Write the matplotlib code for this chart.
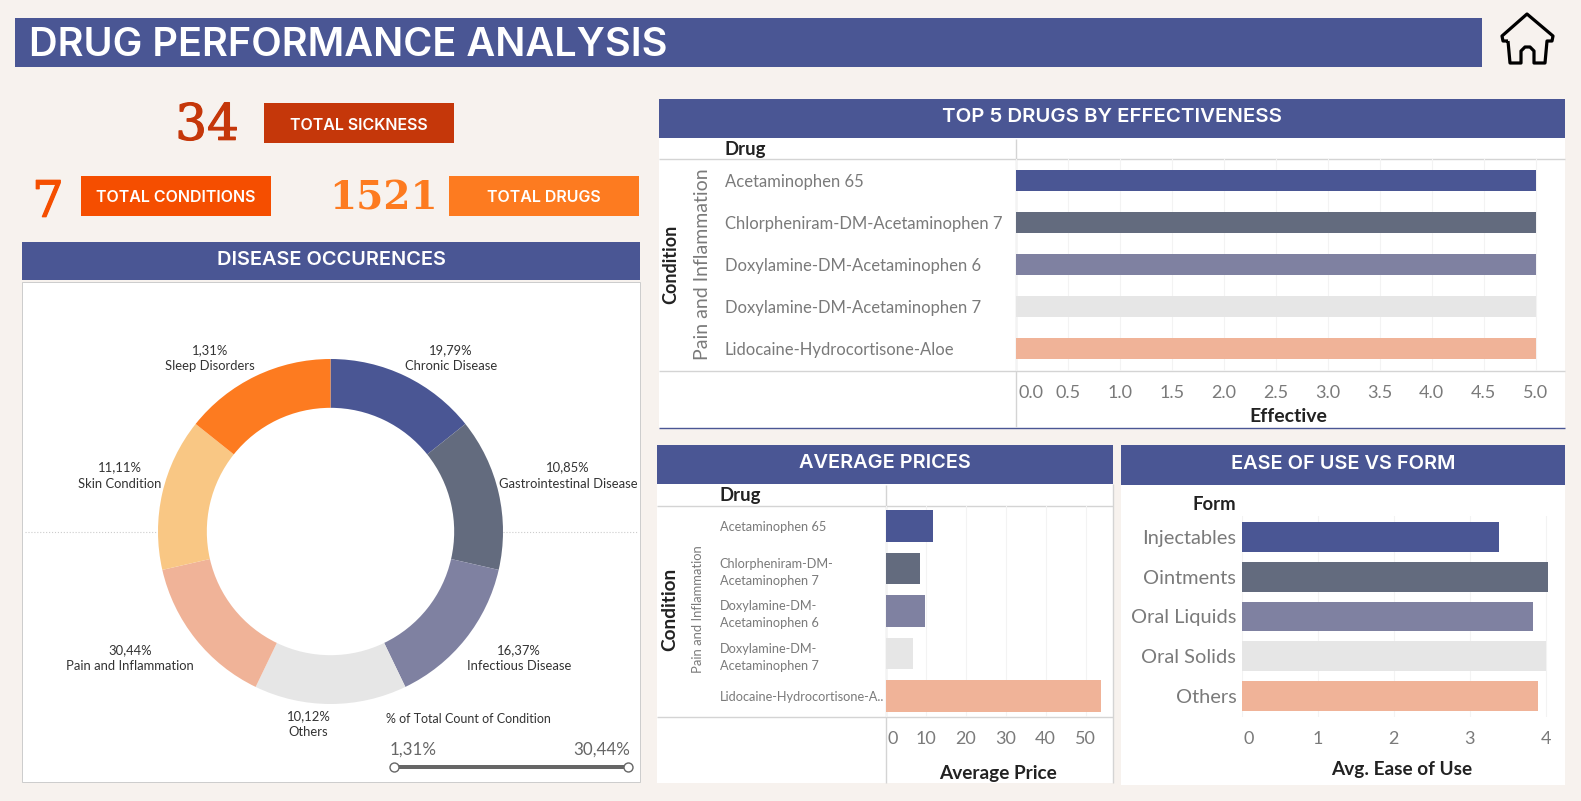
import matplotlib
matplotlib.use("Agg")
import matplotlib.pyplot as plt
import matplotlib.patheffects as pe
from matplotlib.patches import Rectangle, PathPatch
from matplotlib.path import Path
from matplotlib.transforms import ScaledTranslation

W, H = 1581, 801

# -------------------------------
# Data
# -------------------------------
disease_names = ["Chronic Disease", "Gastrointestinal Disease", "Infectious Disease", "Others",
                 "Pain and Inflammation", "Skin Condition", "Sleep Disorders"]
disease_pct = ["19,79%", "10,85%", "16,37%", "10,12%", "30,44%", "11,11%", "1,31%"]
disease_slices = [1, 1, 1, 1, 1, 1, 1]

top_drugs = ["Acetaminophen 65", "Chlorpheniram-DM-Acetaminophen 7", "Doxylamine-DM-Acetaminophen 6",
             "Doxylamine-DM-Acetaminophen 7", "Lidocaine-Hydrocortisone-Aloe"]
top_effective = [5, 5, 5, 5, 5]
top_ticks = [0.0, 0.5, 1.0, 1.5, 2.0, 2.5, 3.0, 3.5, 4.0, 4.5, 5.0]

price_drugs = ["Acetaminophen 65", "Chlorpheniram-DM-\nAcetaminophen 7", "Doxylamine-DM-\nAcetaminophen 6",
               "Doxylamine-DM-\nAcetaminophen 7", "Lidocaine-Hydrocortisone-A.."]
avg_price = [11.9, 8.65, 9.9, 6.85, 53.9]
price_ticks = [0, 10, 20, 30, 40, 50]

forms = ["Injectables", "Ointments", "Oral Liquids", "Oral Solids", "Others"]
ease_of_use = [3.39, 4.03, 3.83, 4.0, 3.9]
ease_ticks = [0, 1, 2, 3, 4]

total_sickness = 34
total_conditions = 7
total_drugs = 1521

# -------------------------------
# Colours / fonts
# -------------------------------
BG = "#F7F2EE"
BLUE = "#4A5694"
bar_colors = ["#4A5694", "#636B7E", "#7F81A1", "#E6E6E6", "#F0B398"]
pie_colors = bar_colors + ["#F9C784", "#FD7B20"]
GREY = "#7A7A7A"
DARK = "#222222"
LINE = "#D4D4D4"
HEAD = "Inter"
BODY = "Lato"
SERIF = "DejaVu Serif"


def pt(px):
    return px * 0.72


fig = plt.figure(figsize=(W / 100, H / 100), dpi=100, facecolor=BG)

# full figure axes in pixel coordinates for the dashboard furniture
bg = fig.add_axes([0, 0, 1, 1])
bg.set_xlim(0, W)
bg.set_ylim(H, 0)
bg.axis("off")


def ax_px(x0, y0, x1, y1):
    return fig.add_axes([x0 / W, 1 - y1 / H, (x1 - x0) / W, (y1 - y0) / H], facecolor="none")


def rect(x0, y0, x1, y1, color, **kw):
    bg.add_patch(Rectangle((x0, y0), x1 - x0, y1 - y0, facecolor=color, edgecolor=kw.pop("edgecolor", "none"), **kw))


def hline(y, x0, x1, color=LINE, lw=1.0):
    bg.plot([x0, x1], [y, y], color=color, lw=lw, solid_capstyle="butt")


def vline(x, y0, y1, color=LINE, lw=1.0):
    bg.plot([x, x], [y0, y1], color=color, lw=lw, solid_capstyle="butt")


def label(x, y, s, px, color=DARK, ha="center", family=BODY, weight="normal", rotation=0):
    return bg.text(x, y, s, fontsize=pt(px), color=color, ha=ha, va="center", family=family,
                   weight=weight, rotation=rotation)


def kpi(x, y, value, px, color, weight="normal"):
    t = label(x, y, str(value), px, color=color, family=SERIF, weight=weight)
    if weight == "normal":
        t.set_path_effects([pe.withStroke(linewidth=0.9, foreground=color)])


def header(x0, y0, x1, y1, s, px=20):
    rect(x0, y0, x1, y1, BLUE)
    label((x0 + x1) / 2, (y0 + y1) / 2 - 1, s, px, color="white", family=HEAD, weight="semibold")


def style_bars(ax, ticks):
    for s in ax.spines.values():
        s.set_visible(False)
    ax.set_xticks(ticks)
    ax.tick_params(axis="both", length=0)
    ax.grid(axis="x", color="#F3F3F3", lw=0.8)
    ax.set_axisbelow(True)
    ax.set_xticklabels([])


# -------------------------------
# Title + home icon
# -------------------------------
rect(15, 18, 1482, 67, BLUE)
label(29, 46, "DRUG PERFORMANCE ANALYSIS", 39.7, color="white", ha="left", family=HEAD, weight="semibold")

verts = [(1508, 41), (1503, 41), (1502, 36), (1527, 14), (1553, 36), (1552, 41), (1547, 41),
         (1545, 63), (1534, 63), (1534, 51), (1530, 47), (1525, 47), (1521, 51), (1521, 63),
         (1510, 63), (1508, 41)]
bg.add_patch(PathPatch(Path(verts), facecolor="none", edgecolor="black", lw=pt(3.2), joinstyle="round"))

# -------------------------------
# KPI cards
# -------------------------------
kpi(207, 126, total_sickness, 50, "#C5370A")
rect(264, 103, 454, 143, "#C5370A")
label(359, 125, "TOTAL SICKNESS", 16, color="white", family=HEAD, weight="semibold")

kpi(48, 203, total_conditions, 50, "#F54E00")
rect(81, 176, 271, 216, "#F54E00")
label(176, 198, "TOTAL CONDITIONS", 16, color="white", family=HEAD, weight="semibold")

kpi(383, 198, total_drugs, 39, "#FD7B20", weight="bold")
rect(449, 176, 639, 216, "#FD7B20")
label(544, 198, "TOTAL DRUGS", 16, color="white", family=HEAD, weight="semibold")

# -------------------------------
# Donut
# -------------------------------
header(22, 242, 640, 280, "DISEASE OCCURENCES")
rect(22, 282, 640, 782, "white", edgecolor="#CCCCCC", lw=0.7)
bg.plot([25, 158], [532, 532], color="#CCCCCC", lw=0.8, ls=":")
bg.plot([503, 638], [532, 532], color="#CCCCCC", lw=0.8, ls=":")

cx, cy, r = 330.5, 531.5, 172.5
ax = ax_px(cx - r, cy - r, cx + r, cy + r)
ax.pie(disease_slices, colors=pie_colors, startangle=90, counterclock=False, radius=1,
       wedgeprops={"width": 1 - 0.717, "linewidth": 0})
ax.set_xlim(-1, 1)
ax.set_ylim(-1, 1)

label_pos = [(451, 350), (568, 467.5), (519, 650), (308.5, 716), (130, 650), (119.5, 467.5), (210, 350)]
for (x, y), name, pct in zip(label_pos, disease_names, disease_pct):
    label(x, y, pct, 13, color="#333333")
    label(x, y + 16, name, 13, color="#333333")

label(385.5, 719, "% of Total Count of Condition", 12.5, color="#333333", ha="left")
label(390, 750, disease_pct[6], 17, color="#666666", ha="left")
label(630, 750, disease_pct[4], 17, color="#666666", ha="right")
hline(767, 394, 628, color="#666666", lw=pt(4))
for x in (394, 628):
    bg.plot(x, 767, "o", ms=pt(9), mfc="white", mec="#666666", mew=1)

# -------------------------------
# Top 5 drugs by effectiveness
# -------------------------------
header(659, 99, 1565, 138, "TOP 5 DRUGS BY EFFECTIVENESS", px=20.4)
rect(659, 138, 1565, 428, "white")
hline(428, 659, 1565, color=BLUE, lw=1)
hline(159, 659, 1565)
hline(371, 659, 1565)
vline(1015.6, 139, 427)

x0, x1, y0, y1 = 1015.6, 1565, 159, 371
ax = ax_px(x0, y0, x1, y1)
ax.barh(range(5), top_effective, height=0.5, color=bar_colors)
ax.set_xlim(0, (x1 - x0) / 104)
ax.set_ylim(4.54, -0.51)
style_bars(ax, top_ticks)
ax.set_yticks(range(5))
ax.set_yticklabels(top_drugs, fontsize=pt(16.6), color=GREY, family=BODY, ha="left", va="center")
ax.tick_params(axis="y", pad=pt(x0 - 725))
for lab in ax.get_yticklabels():
    # drop the drug names two pixels to sit level with the bars
    lab.set_transform(lab.get_transform() + ScaledTranslation(0, -0.02, fig.dpi_scale_trans))
for t in top_ticks:
    # the first tick label is pushed inside the axis in the original
    xp = x0 + t * 104 if t > 0 else 1031
    label(xp, 393, f"{t:.1f}", 18, color=GREY)
label(1288, 417, "Effective", 19.5, weight="bold")
label(725, 149, "Drug", 18.5, ha="left", weight="bold")
label(671, 264, "Condition", 18, rotation=90, weight="bold")
label(702, 264, "Pain and Inflammation", 19.5, color=GREY, rotation=90)

# -------------------------------
# Average prices
# -------------------------------
header(657, 445, 1113, 484, "AVERAGE PRICES")
rect(657, 484, 1113, 783, "white")
vline(1113, 484, 783)
hline(505.7, 657, 1113)
hline(717, 657, 1113)
vline(885.6, 485, 783)

x0, x1, y0, y1 = 885.6, 1113, 505.7, 717
ax = ax_px(x0, y0, x1, y1)
ax.barh(range(5), avg_price, height=0.75, color=bar_colors)
ax.set_xlim(0, (x1 - x0) / 4.0)
ax.set_ylim(4.494, -0.478)
style_bars(ax, price_ticks)
ax.set_yticks(range(5))
ax.set_yticklabels(price_drugs, fontsize=pt(12.8), color=GREY, family=BODY, ha="left", linespacing=1.5)
ax.tick_params(axis="y", pad=pt(x0 - 719.5))
for t in price_ticks:
    xp = x0 + t * 4.0 if t > 0 else 892.6
    label(xp, 739, str(t), 18, color=GREY)
label(998, 773, "Average Price", 19, weight="bold")
label(719.5, 495, "Drug", 18.5, ha="left", weight="bold")
label(670, 609, "Condition", 19, rotation=90, weight="bold")
label(698, 609, "Pain and Inflammation", 13, color=GREY, rotation=90)

# -------------------------------
# Ease of use vs form
# -------------------------------
header(1121, 445, 1565, 485, "EASE OF USE VS FORM")
rect(1121, 485, 1565, 785, "white")

x0, x1, y0, y1 = 1241.8, 1565, 516, 717
ax = ax_px(x0, y0, x1, y1)
ax.barh(range(5), ease_of_use, height=0.75, color=bar_colors)
ax.set_xlim(0, (x1 - x0) / 76.0)
ax.set_ylim(4.525, -0.525)
style_bars(ax, ease_ticks)
ax.set_yticks(range(5))
ax.set_yticklabels(forms, fontsize=pt(20), color=GREY, family=BODY)
ax.tick_params(axis="y", pad=pt(5.5))
for t in ease_ticks:
    xp = x0 + t * 76.0 if t > 0 else 1249
    label(xp, 738.5, str(t), 18, color=GREY)
label(1402, 770, "Avg. Ease of Use", 19, weight="bold")
label(1236, 505, "Form", 18.5, ha="right", weight="bold")

fig.savefig("out.png", dpi=100, facecolor=BG)
